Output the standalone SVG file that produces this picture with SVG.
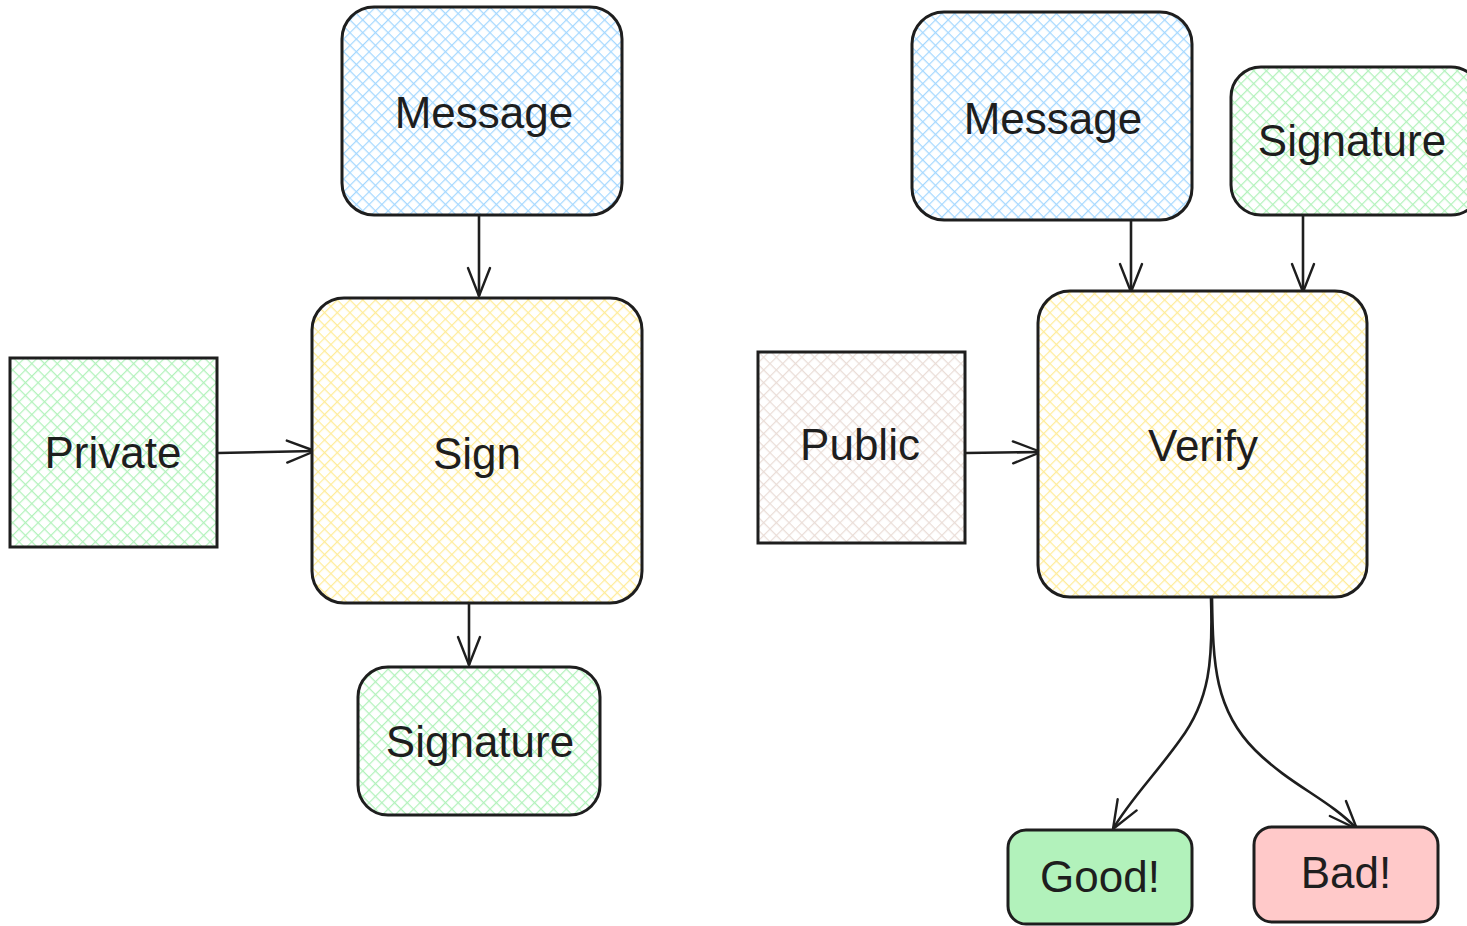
<svg xmlns="http://www.w3.org/2000/svg" width="1467" height="926" viewBox="0 0 1467 926">
<defs>
<pattern id="hBlue" patternUnits="userSpaceOnUse" width="9" height="9" patternTransform="rotate(45)"><rect width="9" height="9" fill="#ffffff"/><path d="M0,0 H9 M0,0 V9" stroke="#a5d8ff" stroke-width="2.4"/></pattern>
<pattern id="hGreen" patternUnits="userSpaceOnUse" width="9" height="9" patternTransform="rotate(45)"><rect width="9" height="9" fill="#ffffff"/><path d="M0,0 H9 M0,0 V9" stroke="#b2f2bb" stroke-width="2.4"/></pattern>
<pattern id="hYellow" patternUnits="userSpaceOnUse" width="9" height="9" patternTransform="rotate(45)"><rect width="9" height="9" fill="#ffffff"/><path d="M0,0 H9 M0,0 V9" stroke="#ffec99" stroke-width="2.4"/></pattern>
<pattern id="hPink" patternUnits="userSpaceOnUse" width="9" height="9" patternTransform="rotate(45)"><rect width="9" height="9" fill="#ffffff"/><path d="M0,0 H9 M0,0 V9" stroke="#eaddd7" stroke-width="2.4"/></pattern>
<marker id="arr" markerUnits="userSpaceOnUse" markerWidth="34" markerHeight="28" refX="30" refY="13" orient="auto"><path d="M2,2 L30,13 L2,24" fill="none" stroke="#1e1e1e" stroke-width="2.4" stroke-linecap="round" stroke-linejoin="round"/></marker>
</defs>
<style>
.box{stroke:#1e1e1e;stroke-width:3}
.lbl{font-family:"Liberation Sans",Arial,sans-serif;font-size:44px;fill:#1e1e1e;text-anchor:middle;dominant-baseline:central}
.con{fill:none;stroke:#1e1e1e;stroke-width:2.6;marker-end:url(#arr)}
</style>
<rect width="1467" height="926" fill="#ffffff"/>
<g id="connectors">
<path class="con" d="M479,216 L479,296"/>
<path class="con" d="M218,453 L315,451"/>
<path class="con" d="M469,604 L469,665"/>
<path class="con" d="M1131,221 L1131,292"/>
<path class="con" d="M1303,209 L1303,292"/>
<path class="con" d="M966,453 L1041,452"/>
<path class="con" d="M1211,598 C1213,660 1210,700 1180,740 C1155,775 1130,800 1113,829"/>
<path class="con" d="M1212,598 C1213,665 1215,710 1255,750 C1290,785 1330,800 1357,829"/>
</g>
<g id="msgL"><rect class="box" x="342" y="7" width="280" height="208" rx="32" fill="url(#hBlue)"/><text class="lbl" x="484" y="112">Message</text></g>
<g id="sign"><rect class="box" x="312" y="298" width="330" height="305" rx="32" fill="url(#hYellow)"/><text class="lbl" x="477" y="453">Sign</text></g>
<g id="private"><rect class="box" x="10" y="358" width="207" height="189" fill="url(#hGreen)"/><text class="lbl" x="113" y="452">Private</text></g>
<g id="sigL"><rect class="box" x="358" y="667" width="242" height="148" rx="30" fill="url(#hGreen)"/><text class="lbl" x="480" y="741">Signature</text></g>
<g id="msgR"><rect class="box" x="912" y="12" width="280" height="208" rx="32" fill="url(#hBlue)"/><text class="lbl" x="1053" y="118">Message</text></g>
<g id="sigR"><rect class="box" x="1231" y="67" width="250" height="148" rx="30" fill="url(#hGreen)"/><text class="lbl" x="1352" y="140">Signature</text></g>
<g id="verify"><rect class="box" x="1038" y="291" width="329" height="306" rx="32" fill="url(#hYellow)"/><text class="lbl" x="1203" y="445">Verify</text></g>
<g id="public"><rect class="box" x="758" y="352" width="207" height="191" fill="url(#hPink)"/><text class="lbl" x="860" y="444">Public</text></g>
<g id="good"><rect class="box" x="1008" y="830" width="184" height="94" rx="18" fill="#b2f2bb"/><text class="lbl" x="1100" y="876">Good!</text></g>
<g id="bad"><rect class="box" x="1254" y="827" width="184" height="95" rx="18" fill="#ffc9c9"/><text class="lbl" x="1346" y="872">Bad!</text></g>
</svg>
